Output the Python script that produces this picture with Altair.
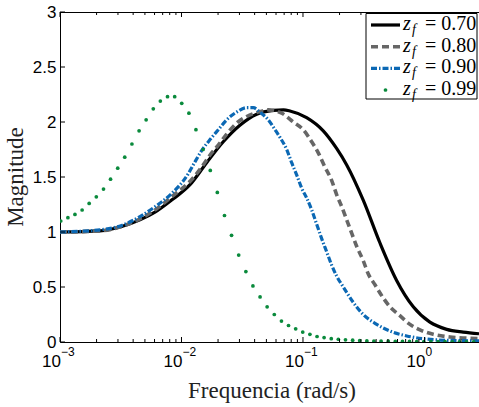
import altair as alt
import pandas as pd

# ---------------- data ----------------
black_exp = [-3.000, -2.671, -2.492, -2.342, -2.218, -2.081, -1.930, -1.793, -1.656, -1.519,
             -1.381, -1.244, -1.160, -1.107, -0.970, -0.833, -0.723, -0.640, -0.504, -0.366, -0.229,
             -0.092, 0.045, 0.183, 0.319, 0.449]
black_mag = [1.00, 1.01, 1.05, 1.11, 1.18, 1.29, 1.43, 1.63, 1.82, 1.97,
             2.07, 2.105, 2.11, 2.10, 2.04, 1.92, 1.76, 1.61, 1.29, 0.90, 0.56,
             0.32, 0.18, 0.115, 0.09, 0.075]

gray_exp = [-3.000, -2.671, -2.492, -2.342, -2.218, -2.081, -1.897, -1.834, -1.765, -1.697,
            -1.628, -1.546, -1.463, -1.368, -1.286, -1.175, -1.080, -0.998, -0.928, -0.874,
            -0.819, -0.764, -0.723, -0.681, -0.640, -0.599, -0.558, -0.504, -0.463, -0.407,
            -0.339, -0.284, -0.202, -0.119, -0.037, 0.072, 0.210, 0.347, 0.449]
gray_mag = [1.00, 1.01, 1.05, 1.12, 1.20, 1.32, 1.50, 1.59, 1.70, 1.79,
            1.89, 1.99, 2.05, 2.09, 2.11, 2.08, 2.00, 1.93, 1.82, 1.72,
            1.59, 1.47, 1.34, 1.23, 1.11, 0.99, 0.87, 0.74, 0.62, 0.52,
            0.40, 0.32, 0.24, 0.16, 0.11, 0.07, 0.045, 0.035, 0.03]

blue_exp = [-3.000, -2.671, -2.492, -2.342, -2.218, -2.081, -1.944, -1.903, -1.834, -1.765,
            -1.697, -1.628, -1.546, -1.463, -1.409, -1.354, -1.286, -1.230, -1.189, -1.134,
            -1.093, -1.052, -1.011, -0.970, -0.928, -0.887, -0.846, -0.805, -0.764, -0.723,
            -0.668, -0.586, -0.504, -0.407, -0.284, -0.146, -0.010, 0.183, 0.449]
blue_mag = [1.00, 1.02, 1.06, 1.14, 1.23, 1.35, 1.53, 1.61, 1.74, 1.84,
            1.93, 2.02, 2.09, 2.13, 2.13, 2.09, 2.02, 1.93, 1.86, 1.75,
            1.63, 1.52, 1.40, 1.31, 1.20, 1.07, 0.94, 0.82, 0.70, 0.60,
            0.50, 0.36, 0.25, 0.17, 0.10, 0.055, 0.03, 0.015, 0.01]

green_exp = [-2.994, -2.935, -2.877, -2.818, -2.760, -2.701, -2.642, -2.584, -2.525, -2.467,
             -2.408, -2.349, -2.291, -2.232, -2.174, -2.115, -2.056, -1.998, -1.939, -1.881,
             -1.822, -1.763, -1.705, -1.646, -1.588, -1.529, -1.470, -1.412, -1.353, -1.295,
             -1.236, -1.177, -1.119, -1.060, -1.002, -0.943, -0.884, -0.826, -0.767, -0.709,
             -0.650, -0.591, -0.533, -0.474, -0.416, -0.357, -0.298, -0.240, -0.181, -0.123,
             -0.064, -0.005, 0.053, 0.112, 0.170, 0.229, 0.288, 0.346, 0.405]
green_mag = [1.10, 1.13, 1.16, 1.20, 1.26, 1.32, 1.39, 1.48, 1.58, 1.68,
             1.80, 1.92, 2.02, 2.12, 2.19, 2.23, 2.23, 2.17, 2.08, 1.93,
             1.75, 1.56, 1.36, 1.15, 0.97, 0.79, 0.64, 0.51, 0.41, 0.32,
             0.25, 0.19, 0.15, 0.12, 0.09, 0.07, 0.05, 0.04, 0.03, 0.025,
             0.02, 0.016, 0.013, 0.01, 0.009, 0.008, 0.007, 0.006, 0.005, 0.005,
             0.004, 0.004, 0.003, 0.003, 0.003, 0.002, 0.002, 0.002, 0.002]

legend_values = ["0.70", "0.80", "0.90", "0.99"]
y_ticks = [0, 0.5, 1, 1.5, 2, 2.5, 3]
decades = [0.001, 0.01, 0.1, 1.0]
decade_exps = ["\u22123", "\u22122", "\u22121", "0"]
minor_mult = [2, 3, 4, 5, 6, 7, 8, 9]

X_MAX = 10 ** 0.449
W, H = 419, 330


def series_df(exps, mags):
    return pd.DataFrame({"f": [10 ** e for e in exps], "m": mags})


xscale = alt.Scale(type="log", domain=[0.001, X_MAX], nice=False)
yscale = alt.Scale(domain=[0, 3], nice=False)
xenc = alt.X("f:Q", scale=xscale,
             axis=alt.Axis(labels=False, ticks=False, grid=False, title=None,
                           domainColor="black", domainWidth=1))
yenc = alt.Y("m:Q", scale=yscale,
             axis=alt.Axis(values=y_ticks, format="~g", ticks=False, grid=False, title=None,
                           labelFont="Liberation Sans", labelFontSize=17, labelColor="black",
                           labelPadding=4, domainColor="black", domainWidth=1))

black = alt.Chart(series_df(black_exp, black_mag)).mark_line(
    color="black", strokeWidth=3.2, clip=True, interpolate="monotone").encode(x=xenc, y=yenc)
gray = alt.Chart(series_df(gray_exp, gray_mag)).mark_line(
    color="#666666", strokeWidth=3.6, strokeDash=[7, 4], clip=True, interpolate="monotone").encode(x="f:Q", y="m:Q")
blue = alt.Chart(series_df(blue_exp, blue_mag)).mark_line(
    color="#0b68b4", strokeWidth=3.2, strokeDash=[6, 2, 1.5, 2], clip=True, interpolate="monotone").encode(x="f:Q", y="m:Q")
green = alt.Chart(series_df(green_exp, green_mag)).mark_circle(
    color="#0a8a3c", size=14, opacity=1, clip=True).encode(x="f:Q", y="m:Q")

# inward ticks
ytick_df = pd.DataFrame({"m": y_ticks})
yticks = alt.Chart(ytick_df).mark_rule(color="black", strokeWidth=1).encode(
    y="m:Q", x=alt.value(0), x2=alt.value(5))

major_df = pd.DataFrame({"f": decades})
minor_df = pd.DataFrame({"f": [d * k for d in decades for k in minor_mult if d * k < X_MAX]})
xmaj_b = alt.Chart(major_df).mark_rule(color="black", strokeWidth=1).encode(
    x="f:Q", y=alt.value(H), y2=alt.value(H - 5))
xmin_b = alt.Chart(minor_df).mark_rule(color="black", strokeWidth=1).encode(
    x="f:Q", y=alt.value(H), y2=alt.value(H - 3))
xmaj_t = alt.Chart(major_df).mark_rule(color="black", strokeWidth=1).encode(
    x="f:Q", y=alt.value(0), y2=alt.value(5))
xmin_t = alt.Chart(minor_df).mark_rule(color="black", strokeWidth=1).encode(
    x="f:Q", y=alt.value(0), y2=alt.value(3))

one = pd.DataFrame({"a": [0]})
top_line = alt.Chart(one).mark_rule(color="black", strokeWidth=1).encode(
    x=alt.value(0), x2=alt.value(W), y=alt.value(0.5))

# x tick labels 10^n
lab_df = pd.DataFrame({"f": decades, "e": decade_exps})
lab_base = alt.Chart(lab_df).mark_text(
    text="10", align="right", baseline="alphabetic", font="Liberation Sans", fontSize=17,
    color="black", dx=1).encode(x="f:Q", y=alt.value(H + 25))
lab_exp = alt.Chart(lab_df).mark_text(
    align="left", baseline="alphabetic", font="Liberation Sans", fontSize=12,
    color="black", dx=1).encode(x="f:Q", y=alt.value(H + 14), text="e:N")

# axis titles
xtitle = alt.Chart(one).mark_text(
    text="Frequencia (rad/s)", font="Liberation Serif", fontSize=23, color="#222222",
    align="center", baseline="alphabetic").encode(x=alt.value(212), y=alt.value(H + 56))
ytitle = alt.Chart(one).mark_text(
    text="Magnitude", font="Liberation Serif", fontSize=23, color="#222222",
    align="center", baseline="middle", angle=270).encode(x=alt.value(-44), y=alt.value(165))

# legend
leg_box = alt.Chart(one).mark_rect(fill="white", stroke="black", strokeWidth=1).encode(
    x=alt.value(306), x2=alt.value(417), y=alt.value(1.5), y2=alt.value(87))
row_y = [13, 34.7, 56.3, 78]
leg_df = pd.DataFrame({"v": legend_values, "ry": row_y})
leg_black = alt.Chart(one).mark_rule(color="black", strokeWidth=3.2).encode(
    x=alt.value(311), x2=alt.value(340), y=alt.value(row_y[0]))
leg_gray = alt.Chart(one).mark_rule(color="#666666", strokeWidth=3.6, strokeDash=[7, 4]).encode(
    x=alt.value(311), x2=alt.value(340), y=alt.value(row_y[1]))
leg_blue = alt.Chart(one).mark_rule(color="#0b68b4", strokeWidth=3.2, strokeDash=[6, 2, 1.5, 2]).encode(
    x=alt.value(311), x2=alt.value(340), y=alt.value(row_y[2]))
leg_green = alt.Chart(one).mark_circle(color="#0a8a3c", size=14, opacity=1).encode(
    x=alt.value(325.5), y=alt.value(row_y[3]))
leg_z = alt.Chart(leg_df).mark_text(
    text="z", font="Liberation Serif", fontStyle="italic", fontSize=20, align="left",
    baseline="alphabetic", color="black", dy=5).encode(x=alt.value(343), y=alt.Y("ry:Q", scale=None))
leg_f = alt.Chart(leg_df).mark_text(
    text="f", font="Liberation Serif", fontStyle="italic", fontSize=14, align="left",
    baseline="alphabetic", color="black", dy=9).encode(x=alt.value(352), y=alt.Y("ry:Q", scale=None))
leg_t = alt.Chart(leg_df).transform_calculate(label="'= ' + datum.v").mark_text(
    font="Liberation Serif", fontSize=20, align="left", baseline="alphabetic",
    color="black", dy=5).encode(x=alt.value(365), y=alt.Y("ry:Q", scale=None),
                                 text=alt.Text("label:N"))

chart = alt.layer(
    black, gray, blue, green,
    yticks, xmaj_b, xmin_b, xmaj_t, xmin_t, top_line,
    lab_base, lab_exp, xtitle, ytitle,
    leg_box, leg_black, leg_gray, leg_blue, leg_green, leg_z, leg_f, leg_t,
).properties(
    width=W, height=H,
    padding={"left": 60, "top": 12, "right": 0, "bottom": 65},
    autosize=alt.AutoSizeParams(type="none"),
).configure_view(stroke=None).configure(background="white")

chart.save("out.html", embed_options={"renderer": "svg", "actions": False})
